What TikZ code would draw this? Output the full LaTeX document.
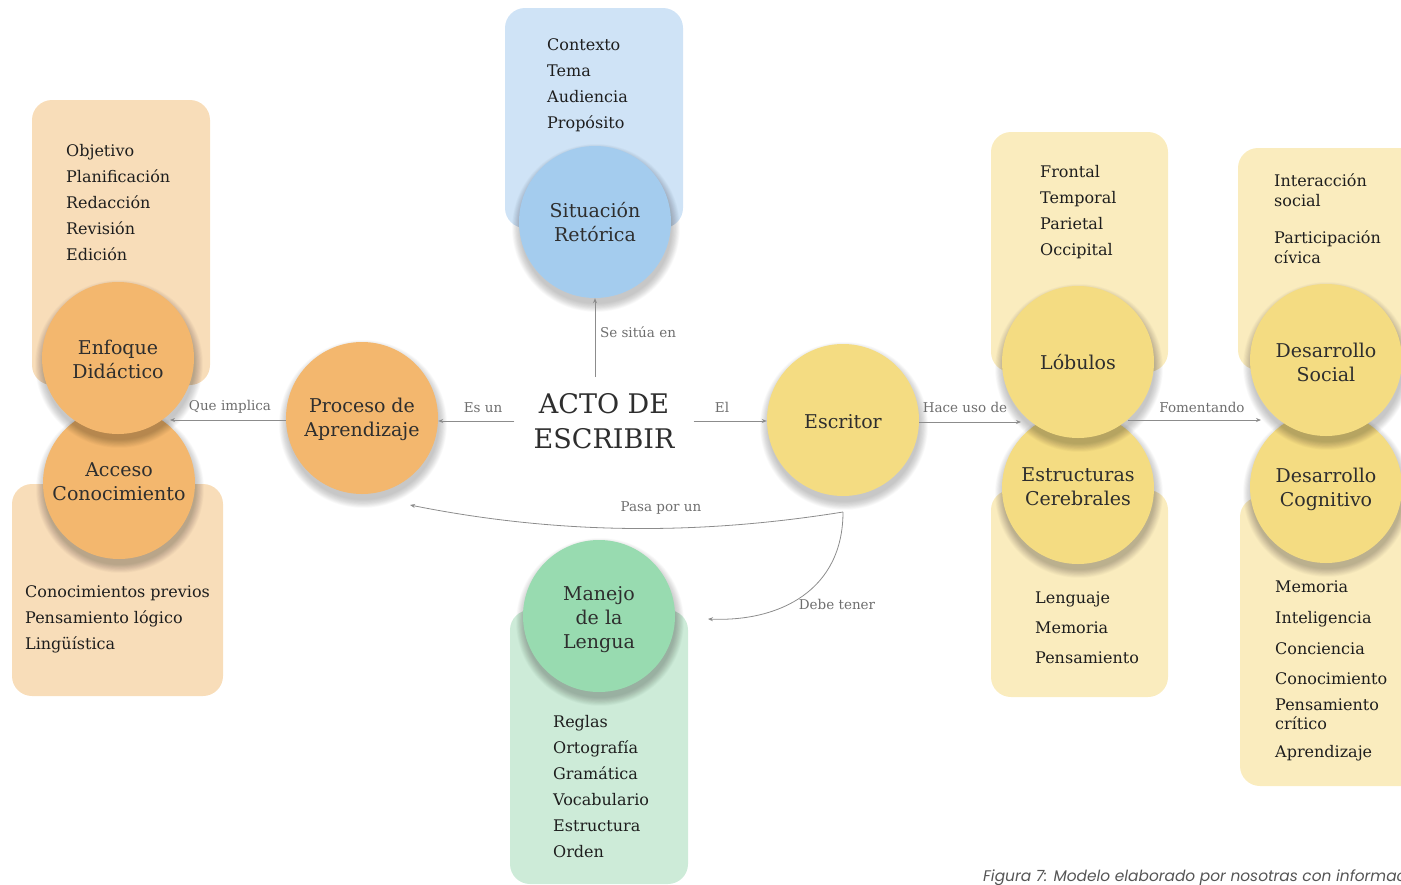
\documentclass[tikz,border=0pt]{standalone}
\usepackage{fontspec}
\setmainfont{DejaVu Serif}
\newfontfamily\captionfont{Poppins}
\usetikzlibrary{arrows.meta}

\definecolor{orangeDot}{HTML}{F3B76E}
\definecolor{orangeBox}{HTML}{F8DDB9}
\definecolor{blueDot}{HTML}{A4CCEE}
\definecolor{blueBox}{HTML}{CFE3F6}
\definecolor{greenDot}{HTML}{98DBB0}
\definecolor{greenBox}{HTML}{CDEBD8}
\definecolor{yellowDot}{HTML}{F4DC82}
\definecolor{yellowBox}{HTML}{FAECBE}
\definecolor{inkDark}{HTML}{2E2E2E}
\definecolor{inkList}{HTML}{1E1E1E}
\definecolor{lineGray}{HTML}{8C8C8C}
\definecolor{labelGray}{HTML}{6E6E6E}
\definecolor{captionGray}{HTML}{555555}

% soft shadow under a bubble, centred on a named coordinate
\newcommand{\bubbleshadow}[1]{%
  \foreach \k in {0,...,15}{%
    \fill[black,opacity=0.017] ([xshift=1pt,yshift=-6pt]#1) circle [radius={84pt-0.55pt*\k}];}}

\begin{document}
\begin{tikzpicture}[x=1pt,y=-1pt,
  panel/.style={rounded corners=20pt},
  bubble/.style={circle, minimum size=152pt, inner sep=0pt},
  bubbletext/.style={align=center, inner sep=0pt,
    font=\fontsize{19}{24}\selectfont, text=inkDark},
  item/.style={anchor=base west, inner sep=0pt,
    font=\fontsize{16}{20}\selectfont, text=inkList},
  link/.style={draw=lineGray, line width=0.8pt, -{Stealth[length=5pt,width=4pt]}},
  linklabel/.style={inner sep=0pt, font=\fontsize{13.5}{16}\selectfont, text=labelGray}]

\useasboundingbox (0,0) rectangle (1401,884);
\clip (0,0) rectangle (1401,884);

% bubble centres
\coordinate (cEnf) at (118,358);
\coordinate (cAcc) at (119,483);
\coordinate (cPro) at (362,418);
\coordinate (cEsc) at (843,420);
\coordinate (cSit) at (595,222);
\coordinate (cMan) at (599,616);
\coordinate (cLob) at (1078,362);
\coordinate (cEst) at (1078,488);
\coordinate (cSoc) at (1326,360);
\coordinate (cCog) at (1326,487);

% background panels
\fill[orangeBox, panel] (32,100) rectangle (210,385);
\fill[orangeBox, panel] (12,484) rectangle (223,696);
\fill[blueBox, panel] (505,8) rectangle (683,228);
\fill[greenBox, panel] (510,610) rectangle (688,884);
\fill[yellowBox, panel] (991,132) rectangle (1168,372);
\fill[yellowBox, panel] (991,490) rectangle (1168,697);
\fill[yellowBox, panel] (1238,148) rectangle (1430,370);
\fill[yellowBox, panel] (1240,497) rectangle (1430,786);

% bubbles
\bubbleshadow{cAcc}
\node[bubble, fill=orangeDot] (acceso) at (cAcc) {};
\node[bubbletext] (accesoText) at ([yshift=1pt]acceso.center) {Acceso\\Conocimiento};
\bubbleshadow{cEnf}
\node[bubble, fill=orangeDot] (enfoque) at (cEnf) {};
\node[bubbletext] (enfoqueText) at ([yshift=-1pt]enfoque.center) {Enfoque\\Didáctico};
\bubbleshadow{cPro}
\node[bubble, fill=orangeDot] (proceso) at (cPro) {};
\node[bubbletext] (procesoText) at ([yshift=-1pt]proceso.center) {Proceso de\\Aprendizaje};
\bubbleshadow{cEsc}
\node[bubble, fill=yellowDot] (escritor) at (cEsc) {};
\node[bubbletext] (escritorText) at ([yshift=-2pt]escritor.center) {Escritor};
\bubbleshadow{cSit}
\node[bubble, fill=blueDot] (situacion) at (cSit) {};
\node[bubbletext] (situacionText) at (situacion.center) {Situación\\Retórica};
\bubbleshadow{cMan}
\node[bubble, fill=greenDot] (manejo) at (cMan) {};
\node[bubbletext] (manejoText) at ([yshift=-4pt]manejo.center) {Manejo\\de la\\Lengua};
\bubbleshadow{cEst}
\node[bubble, fill=yellowDot] (estructuras) at (cEst) {};
\node[bubbletext] (estructurasText) at ([yshift=1pt]estructuras.center) {Estructuras\\Cerebrales};
\bubbleshadow{cLob}
\node[bubble, fill=yellowDot] (lobulos) at (cLob) {};
\node[bubbletext] (lobulosText) at (lobulos.center) {Lóbulos};
\bubbleshadow{cCog}
\node[bubble, fill=yellowDot] (cognitivo) at (cCog) {};
\node[bubbletext] (cognitivoText) at ([yshift=-2pt]cognitivo.center) {Desarrollo\\Cognitivo};
\bubbleshadow{cSoc}
\node[bubble, fill=yellowDot] (social) at (cSoc) {};
\node[bubbletext] (socialText) at ([yshift=-2pt]social.center) {Desarrollo\\Social};

% central concept
\node[align=center, inner xsep=19pt, inner ysep=16pt, text=inkDark,
  font=\fontsize{27}{35}\selectfont] (acto) at (604,421) {ACTO DE\\ESCRIBIR};

% lists
\foreach \t [count=\i] in {Objetivo,Planificación,Redacción,Revisión,Edición}
  \node[item] (enf\i) at (66,156+26*\i-26) {\t};
\foreach \t [count=\i] in {Conocimientos previos,Pensamiento lógico,Lingüística}
  \node[item] (acc\i) at (25,597+26*\i-26) {\t};
\foreach \t [count=\i] in {Contexto,Tema,Audiencia,Propósito}
  \node[item] (sit\i) at (547,50+26*\i-26) {\t};
\foreach \t [count=\i] in {Reglas,Ortografía,Gramática,Vocabulario,Estructura,Orden}
  \node[item] (man\i) at (553,727+26*\i-26) {\t};
\foreach \t [count=\i] in {Frontal,Temporal,Parietal,Occipital}
  \node[item] (lob\i) at (1040,177+26*\i-26) {\t};
\foreach \t [count=\i] in {Lenguaje,Memoria,Pensamiento}
  \node[item] (est\i) at (1035,603+30*\i-30) {\t};
\node[item] (soc1) at (1274,186) {Interacción};
\node[item] (soc2) at (1274,206) {social};
\node[item] (soc3) at (1274,243) {Participación};
\node[item] (soc4) at (1274,263) {cívica};
\node[item] (cog1) at (1275,592) {Memoria};
\node[item] (cog2) at (1275,623) {Inteligencia};
\node[item] (cog3) at (1275,654) {Conciencia};
\node[item] (cog4) at (1275,684) {Conocimiento};
\node[item] (cog5) at (1275,710) {Pensamiento};
\node[item] (cog6) at (1275,729) {crítico};
\node[item] (cog7) at (1275,757) {Aprendizaje};

% loose connector ends
\coordinate (enfIn) at (170,420);
\coordinate (lobIn) at (1021,422);
\coordinate (lobOut) at (1128,420);
\coordinate (desIn) at (1261,420);
\coordinate (fork) at (843,512);
\coordinate (proIn) at (410,505);
\coordinate (manIn) at (708,619);

% connectors
\draw[link] (acto.north -| situacion.south) -- (situacion.south);
\draw[link] (acto.west) -- (acto.west -| proceso.east);
\draw[link] (acto.east) -- (acto.east -| escritor.west);
\draw[link] (proceso.west |- enfIn) -- (enfIn);
\draw[link] (escritor.east |- lobIn) -- (lobIn);
\draw[link] (lobOut) -- (desIn);
\draw[link] (fork) .. controls (700,535) and (560,535) .. (proIn);
\draw[link] (fork) .. controls (843,590) and (780,622) .. (manIn);

% connector labels
\node[linklabel] (lSit) at (638,332) {Se sitúa en};
\node[linklabel] (lEs) at (483,408) {Es un};
\node[linklabel] (lEl) at (722,407) {El};
\node[linklabel] (lQue) at (230,407) {Que implica};
\node[linklabel] (lHace) at (965,407) {Hace uso de};
\node[linklabel] (lFom) at (1202,407) {Fomentando};
\node[linklabel] (lPasa) at (661,508) {Pasa por un};
\node[linklabel] (lDebe) at (837,604) {Debe tener};

% caption
\node[anchor=base west, inner sep=0pt, text=captionGray,
  font=\captionfont\itshape\fontsize{15.4}{17}\selectfont] (caption) at (983,881)
  {Figura 7: Modelo elaborado por nosotras con información};
\end{tikzpicture}
\end{document}
